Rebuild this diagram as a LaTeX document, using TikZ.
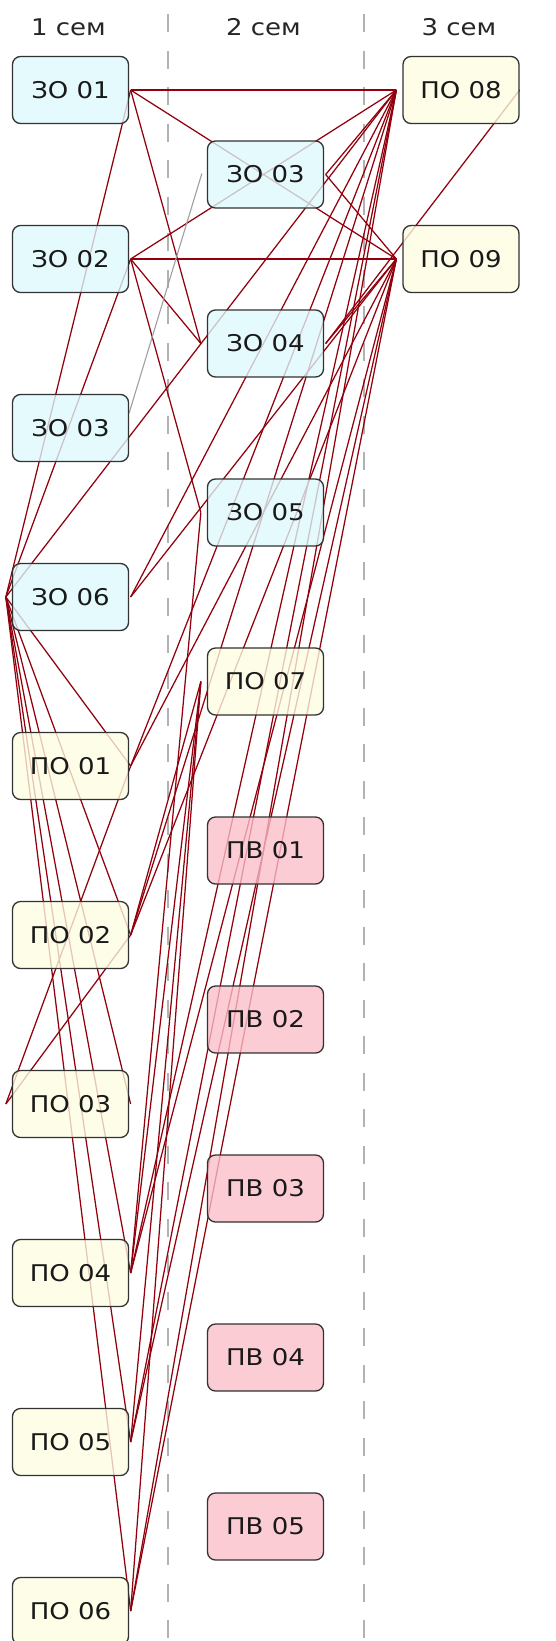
\documentclass[tikz,border=0pt]{standalone}
\usepackage{fontspec}
\setmainfont{DejaVu Sans}[FakeStretch=1.13]
\usetikzlibrary{calc}
\pgfdeclarelayer{bg}
\pgfsetlayers{bg,main}
\definecolor{zofill}{RGB}{222,249,252}
\definecolor{pofill}{RGB}{253,253,226}
\definecolor{pvfill}{RGB}{252,190,202}
\definecolor{edgered}{RGB}{145,0,12}
\definecolor{boxline}{RGB}{50,50,50}
\definecolor{sepgray}{RGB}{178,178,178}
\begin{document}
\begin{tikzpicture}[x=1pt,y=-1pt,
  box/.style={draw=boxline, line width=1.3pt, rounded corners=8pt,
    minimum width=116pt, minimum height=67pt, inner sep=0pt,
    fill opacity=0.78, text opacity=1, text=black!90,
    font=\fontsize{23}{27}\selectfont},
  zo/.style={box, fill=zofill},
  po/.style={box, fill=pofill},
  pv/.style={box, fill=pvfill},
  hdr/.style={font=\fontsize{23}{27}\selectfont, anchor=base, text=black!85, inner sep=0pt},
  sep/.style={draw=sepgray, line width=1.6pt, dash pattern=on 18pt off 18.5pt},
  link/.style={draw=edgered, line width=1.25pt},
  glink/.style={draw=gray!75, line width=1.1pt}]
\useasboundingbox (0,0) rectangle (556,1641);

% headers
\node[hdr] (h1) at (68.5,35.5) {1 сем};
\node[hdr] (h2) at (263.5,35.5) {2 сем};
\node[hdr] (h3) at (459,35.5) {3 сем};

% column 1
\node[zo] (a01) at (70.5,90) {ЗО 01};
\node[zo] (a02) at (70.5,259) {ЗО 02};
\node[zo] (a03) at (70.5,428) {ЗО 03};
\node[zo] (a06) at (70.5,597) {ЗО 06};
\node[po] (p01) at (70.5,766) {ПО 01};
\node[po] (p02) at (70.5,935) {ПО 02};
\node[po] (p03) at (70.5,1104) {ПО 03};
\node[po] (p04) at (70.5,1273) {ПО 04};
\node[po] (p05) at (70.5,1442) {ПО 05};
\node[po] (p06) at (70.5,1611) {ПО 06};
% column 2
\node[zo] (b03) at (265.5,174.5) {ЗО 03};
\node[zo] (b04) at (265.5,343.5) {ЗО 04};
\node[zo] (b05) at (265.5,512.5) {ЗО 05};
\node[po] (p07) at (265.5,681.5) {ПО 07};
\node[pv] (v01) at (265.5,850.5) {ПВ 01};
\node[pv] (v02) at (265.5,1019.5) {ПВ 02};
\node[pv] (v03) at (265.5,1188.5) {ПВ 03};
\node[pv] (v04) at (265.5,1357.5) {ПВ 04};
\node[pv] (v05) at (265.5,1526.5) {ПВ 05};
% column 3
\node[po] (p08) at (461,90) {ПО 08};
\node[po] (p09) at (461,259) {ПО 09};

\foreach \n in {a01,a02,a03,a06,p01,p02,p03,p04,p05,p06,b03,b04,b05,p07,p08,p09}{
  \coordinate (\n E) at ([xshift=1.5pt]\n.east);
  \coordinate (\n W) at ([xshift=-6pt]\n.west);
}
\coordinate (gtop) at ([xshift=-5pt,yshift=1pt]b03.west);
\coordinate (gbot) at ([yshift=15pt]a03.east);
\coordinate (s1t) at (168,14);
\coordinate (s1b) at (168,1641);
\coordinate (s2t) at (364,14);
\coordinate (s2b) at (364,1641);

\begin{pgfonlayer}{bg}
\fill[white] (0,0) rectangle (556,1641);
\draw[sep] (s1t) -- (s1b);
\draw[sep] (s2t) -- (s2b);
% top group
\draw[link] (a01E) -- (p08W);
\draw[link] (a01E) -- (p09W);
\draw[link] (a01E) -- (b04W);
\draw[link] (a01E) -- (a06W);
\draw[link] (a02E) -- (p08W);
\draw[link] (a02E) -- (p09W);
\draw[link] (a02E) -- (b04W);
\draw[link] (a02E) -- (b05W);
\draw[link] (a02E) -- (a06W);
\draw[link] (b03E) -- (p08W);
\draw[link] (b03E) -- (p09W);
\draw[link] (b04E) -- (p09W);
\draw[link] (b04E) -- (p08.east);
\draw[link] (a06W) -- (p08W);
\draw[link] (a06E) -- (p08W);
\draw[link] (a06E) -- (p09W);
% fan from ZO 06
\draw[link] (a06W) -- (p01E);
\draw[link] (a06W) -- (p02E);
\draw[link] (a06W) -- (p03E);
\draw[link] (a06W) -- (p04E);
\draw[link] (a06W) -- (p05E);
\draw[link] (a06W) -- (p06E);
\draw[link] (p01E) -- (p03W);
\draw[link] (p02E) -- (p03W);
% lower group
\draw[link] (p01E) -- (p08W);
\draw[link] (p01E) -- (p09W);
\draw[link] (p02E) -- (p08W);
\draw[link] (p02E) -- (p09W);
\draw[link] (p02E) -- (p07W);
\draw[link] (p04E) -- (p08W);
\draw[link] (p04E) -- (p09W);
\draw[link] (p04E) -- (p07W);
\draw[link] (p04E) -- (b05W);
\draw[link] (p05E) -- (p08W);
\draw[link] (p05E) -- (p09W);
\draw[link] (p05E) -- (p07W);
\draw[link] (p06E) -- (p08W);
\draw[link] (p06E) -- (p09W);
\draw[link] (p06E) -- (p07W);
\draw[glink] (gbot) -- (gtop);
\end{pgfonlayer}
\end{tikzpicture}
\end{document}
